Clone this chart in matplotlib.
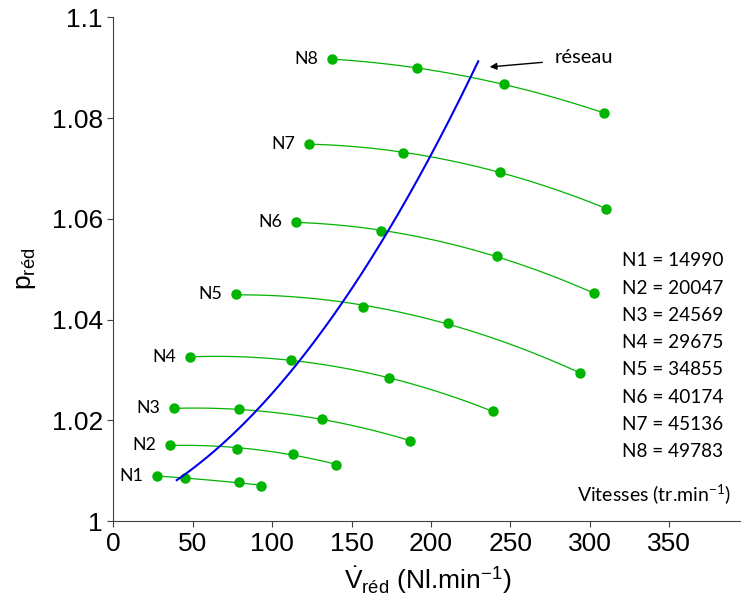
import numpy as np
import matplotlib.pyplot as plt

plt.rcParams['font.family'] = ['Liberation Sans', 'DejaVu Sans']
plt.rcParams['mathtext.default'] = 'regular'

# debit reduit (Nl/min) et pression reduite pour chaque vitesse
labels = ["N1", "N2", "N3", "N4", "N5", "N6", "N7", "N8"]
speeds = [14990, 20047, 24569, 29675, 34855, 40174, 45136, 49783]

V = [
    [27.7, 45.3, 79.3, 93.2],
    [35.9, 77.9, 113.2, 140.2],
    [38.2, 79.3, 131.4, 187.0],
    [48.3, 112.1, 173.4, 239.1],
    [77.5, 157.4, 210.6, 293.7],
    [114.9, 168.8, 241.6, 302.5],
    [123.4, 182.6, 243.5, 310.3],
    [137.7, 191.2, 246.0, 309.0],
]
p = [
    [1.0090, 1.0085, 1.0077, 1.0071],
    [1.0151, 1.0144, 1.0134, 1.0112],
    [1.0224, 1.0222, 1.0202, 1.0160],
    [1.0326, 1.0320, 1.0284, 1.0218],
    [1.0450, 1.0426, 1.0394, 1.0294],
    [1.0594, 1.0575, 1.0527, 1.0452],
    [1.0749, 1.0730, 1.0694, 1.0620],
    [1.0917, 1.0899, 1.0867, 1.0810],
]

# courbe reseau
V_res = [39.9, 67.2, 90.3, 117.6, 144.8, 161.6, 199.4, 224.6, 229.8]
p_res = [1.0081, 1.0151, 1.0219, 1.0320, 1.0439, 1.0515, 1.0723, 1.0882, 1.0910]

green = "#00b400"

fig = plt.figure(figsize=(7.41, 6.08), dpi=100)
ax = fig.add_axes([0.153, 0.1426, 0.847, 0.829])

for lab, x, y in zip(labels, V, p):
    c = np.polyfit(x, y, 2)
    xs = np.linspace(x[0], x[-1], 100)
    ax.plot(xs, np.polyval(c, xs), color=green, lw=0.9)
    ax.plot(x, y, "o", color=green, ms=6.5)
    ax.annotate(lab, (x[0], y[0]), xytext=(-10, 0), textcoords="offset points",
                ha="right", va="center", fontsize=12.8, family="Lato")

c = np.polyfit(V_res, p_res, 2)
xs = np.linspace(V_res[0], V_res[-1], 200)
ax.plot(xs, np.polyval(c, xs), color="#0000ee", lw=1.5)

ax.annotate("", xy=(235.3, 1.0901), xytext=(271.9, 1.0911),
            arrowprops=dict(arrowstyle="-|>", color="black", lw=1, mutation_scale=10))
ax.text(278, 1.0921, "réseau", ha="left", va="center", fontsize=14.5, family="Lato")

for i, (lab, n) in enumerate(zip(labels, speeds)):
    ax.text(0.81, 0.5165 - i * 0.054, f"{lab} = {n}", transform=ax.transAxes,
            ha="left", va="center", fontsize=13.7, family="Lato")
ax.text(0.985, 0.054, "Vitesses (tr.min$^{-1}$)", transform=ax.transAxes,
        ha="right", va="center", fontsize=14, family="Lato")

ax.set_xlim(0, 395.3)
ax.set_ylim(1, 1.1)
ax.set_xticks([0, 50, 100, 150, 200, 250, 300, 350])
ax.set_yticks([1, 1.02, 1.04, 1.06, 1.08, 1.1])
ax.set_yticklabels(["1", "1.02", "1.04", "1.06", "1.08", "1.1"])
ax.tick_params(labelsize=19, length=4, color="#404040", direction="out")
for s in ["top", "right"]:
    ax.spines[s].set_visible(False)
for s in ["left", "bottom"]:
    ax.spines[s].set_color("#404040")

ax.set_xlabel(r"$\dot{V}_{réd}$ (Nl.min$^{-1}$)", fontsize=19, labelpad=6)
ax.set_ylabel(r"$p_{réd}$", fontsize=19, labelpad=10)

fig.savefig("out.png", dpi=100)
